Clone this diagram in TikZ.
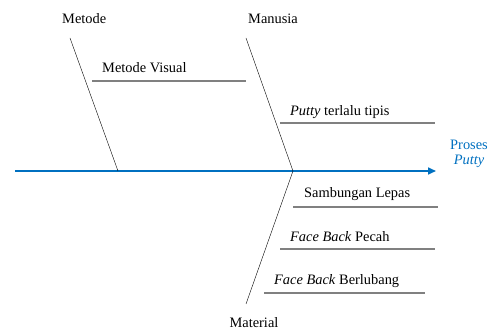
\documentclass[tikz,border=0pt]{standalone}
\usepackage{fontspec}
\setmainfont{Liberation Serif}
\usepackage{xcolor}
\usetikzlibrary{arrows.meta}
\usetikzlibrary{positioning}
\definecolor{SpineBlue}{RGB}{0,112,192}
\tikzset{
  Label/.style={
    inner sep=0pt, anchor=base west,
    font=\fontsize{14.4}{16}\selectfont,
  },
  Bone/.style={thin, draw=black},
  Cause/.style={line width=1.2pt, draw=black!50},
  Spine/.style={line width=1.6pt, draw=SpineBlue, -{Triangle[length=8pt,width=7pt]}},
}

\begin{document}
\begin{tikzpicture}[x=1pt,y=-1pt]
\useasboundingbox (0,0) rectangle (491,329);
% kategori
\node[Label] (metode) at (62,24) {Metode};
\node[Label] (manusia) at (248,24) {Manusia};
\node[Label, anchor=base] (material) at (254,327) {Material};
\node[Label, anchor=base, text=SpineBlue, align=center] (akibat) at (469,165) {Proses\\\textit{Putty}};
% sebab
\node[Label] (visual) at (102,73) {Metode Visual};
\node[Label] (tipis) at (290,116) {\textit{Putty} terlalu tipis};
\node[Label] (lepas) at (304,198) {Sambungan Lepas};
\node[Label] (pecah) at (290,241) {\textit{Face Back} Pecah};
\node[Label] (lubang) at (274,284) {\textit{Face Back} Berlubang};
% titik
\coordinate (ekor) at (15,171);
\coordinate (kepala) at (436,171);
\coordinate (M1) at (70,38);
\coordinate (M2) at (118,171);
\coordinate (N1) at (246,38);
\coordinate (N2) at (293,171);
\coordinate (T1) at (246,304);
\draw[Spine] (ekor) to (kepala);
\draw[Bone] (M1) to (M2);
\draw[Bone] (N1) to (N2) to (T1);
\draw[Cause] (92,81) to (246,81);
\draw[Cause] (280,123) to (435,123);
\draw[Cause] (293,207) to (438,207);
\draw[Cause] (280,249) to (435,249);
\draw[Cause] (264,293) to (425,293);
\end{tikzpicture}
\end{document}
